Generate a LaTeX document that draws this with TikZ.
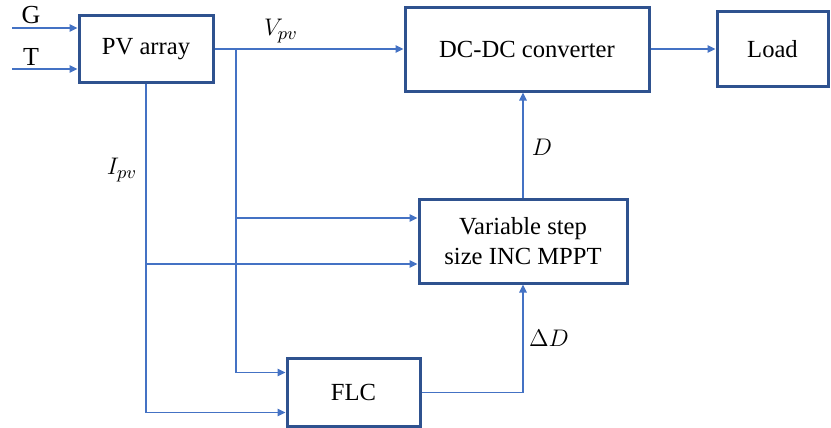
\documentclass[tikz,border=0pt]{standalone}
\usepackage{amsmath}
\usepackage{fontspec}
\setmainfont{Liberation Serif}
\usetikzlibrary{arrows.meta}
\definecolor{boxblue}{HTML}{2F528F}
\definecolor{wireblue}{HTML}{4472C4}

\begin{document}
\begin{tikzpicture}[x=0.5pt,y=-0.5pt,>={Triangle[length=4pt,width=3.6pt]}]
  \tikzstyle{block}=[draw=boxblue,line width=1.5pt,fill=white,inner sep=2pt,align=center,font=\rmfamily\fontsize{12.3}{15}\selectfont]
  \tikzstyle{wire}=[draw=wireblue,line width=0.9pt]
  \tikzstyle{lbl}=[font=\rmfamily\fontsize{13}{15}\selectfont]
  \useasboundingbox (0,0) rectangle (831,428);

  % blocks
  \node[block,minimum width=67pt,minimum height=33.5pt] (PV) at (146,49) {PV array};
  \node[block,minimum width=122pt,minimum height=42pt] (dcdc) at (527,49) {DC-DC converter};
  \node[block,minimum width=55.5pt,minimum height=37.5pt] (load) at (772.5,49) {Load};
  \node[block,minimum width=104pt,minimum height=42pt] (mppt) at (523,241) {Variable step\\ size INC MPPT};
  \node[block,minimum width=66.5pt,minimum height=34pt] (flc) at (353.5,392.5) {FLC};

  % inputs
  \coordinate (gin) at (12,28);
  \coordinate (tin) at (12,69);
  \node[lbl] (G) at (31,15) {G};
  \node[lbl] (T) at (31,57) {T};
  \draw[wire,->] (gin) -- (gin -| PV.west);
  \draw[wire,->] (tin) -- (tin -| PV.west);

  % main power path
  \draw[wire,->] (PV.east) -- (dcdc.west);
  \draw[wire,->] (dcdc.east) -- (load.west);
  \node[lbl] (vlbl) at (281,31) {$V_{pv}$};

  % measured signals
  \coordinate (vb) at (236,49);
  \coordinate (m1) at ([yshift=11.5pt]mppt.west);
  \coordinate (m2) at ([yshift=-11.5pt]mppt.west);
  \coordinate (f1) at ([yshift=10pt]flc.west);
  \coordinate (f2) at ([yshift=-10pt]flc.west);
  \draw[wire,->] (vb) |- (f1);
  \draw[wire,->] (m1 -| vb) -- (m1);
  \draw[wire,->] (PV.south) |- (f2);
  \draw[wire,->] (m2 -| PV.south) -- (m2);
  \node[lbl] (ilbl) at (122,170) {$I_{pv}$};

  % control loop
  \draw[wire,->] (flc.east) -| (mppt.south);
  \draw[wire,->] (mppt.north) -- (mppt.north |- dcdc.south);
  \node[lbl] (dlbl) at (542,147) {$D$};
  \node[lbl] (ddlbl) at (549,338) {$\Delta D$};
\end{tikzpicture}
\end{document}
